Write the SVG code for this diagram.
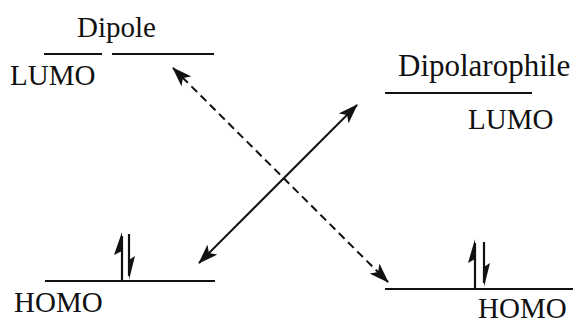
<svg xmlns="http://www.w3.org/2000/svg" width="580" height="325" viewBox="0 0 580 325">
<style>
.t{font-family:"Liberation Serif","Times New Roman",serif;font-size:29px;fill:#111}
.lvl{stroke:#111;stroke-width:2;fill:none}
.e{stroke:#111;stroke-width:2.2;fill:none}
.h{fill:#111}
.arr{stroke:#111;stroke-width:2;fill:none}
</style>
<defs>
<marker id="ah" viewBox="0 0 20 14" refX="19" refY="7" markerWidth="20" markerHeight="14" markerUnits="userSpaceOnUse" orient="auto-start-reverse">
<path d="M0,0 L20,7 L0,14 L5,7 Z" fill="#111"/>
</marker>
</defs>
<g id="dipole-lumo">
<text class="t" x="77" y="37">Dipole</text>
<line class="lvl" x1="44" y1="54" x2="102" y2="54"/>
<line class="lvl" x1="112" y1="54" x2="214" y2="54"/>
<text class="t" x="10" y="85">LUMO</text>
</g>
<g id="dipole-homo">
<line class="lvl" x1="45" y1="281" x2="215" y2="281"/>
<line class="e" x1="122" y1="280" x2="122" y2="236"/>
<polygon class="h" points="122,232 114,255 122,251"/>
<line class="e" x1="129" y1="234" x2="129" y2="276"/>
<polygon class="h" points="129,280 135,256 129,260"/>
<text class="t" x="14" y="312">HOMO</text>
</g>
<g id="dipolarophile-lumo">
<text class="t" x="398" y="76" style="font-size:31px">Dipolarophile</text>
<line class="lvl" x1="385" y1="93" x2="532" y2="93"/>
<text class="t" x="468" y="129">LUMO</text>
</g>
<g id="dipolarophile-homo">
<line class="lvl" x1="385" y1="289" x2="573" y2="289"/>
<line class="e" x1="475" y1="288" x2="475" y2="243"/>
<polygon class="h" points="475,239 468,263 475,259"/>
<line class="e" x1="484" y1="242" x2="484" y2="283"/>
<polygon class="h" points="484,287 490,263 484,267"/>
<text class="t" x="478" y="318">HOMO</text>
</g>
<g id="connectors">
<line class="arr" x1="199" y1="263" x2="357" y2="105" marker-start="url(#ah)" marker-end="url(#ah)"/>
<line class="arr" x1="173" y1="68" x2="388" y2="282" stroke-dasharray="8,5" marker-start="url(#ah)" marker-end="url(#ah)"/>
</g>
</svg>
